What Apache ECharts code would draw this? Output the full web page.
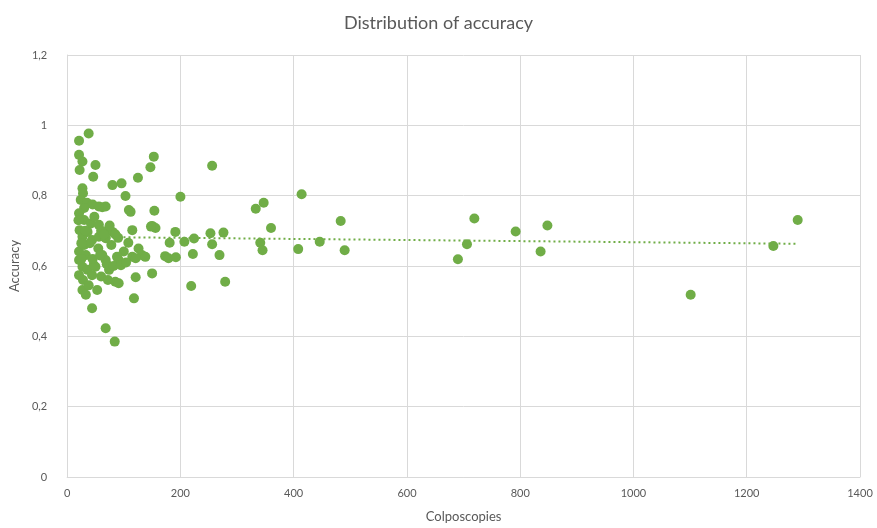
<!DOCTYPE html>
<html><head><meta charset="utf-8">
<script src="https://cdn.jsdelivr.net/npm/echarts@6/dist/echarts.min.js"></script>
<style>html,body{margin:0;padding:0;background:#fff}#c{width:877px;height:528px}</style>
</head><body><div id="c"></div>
<script>
var title = 'Distribution of accuracy';
var xName = 'Colposcopies';
var yName = 'Accuracy';
var xTicks = [0, 200, 400, 600, 800, 1000, 1200, 1400];
var yTicks = [0, 0.2, 0.4, 0.6, 0.8, 1, 1.2];
var colposcopies = [
 38,21,21,27,22,50,46,153,147,125,80,96,27,28,103,
 109,112,154,62,68,150,156,115,24,35,45,56,30,
 21,30,42,56,74,80,22,27,36,44,56,68,75,85,90,20,48,60,65,
 21,33,21,27,36,62,68,50,74,44,21,
 108,126,132,138,100,115,121,88,91,70,82,95,104,47,30,40,25,55,78,
 150,121,85,91,53,27,33,118,44,68,84,
 28,38,60,72,32,25,45,58,
 173,179,192,222,269,219,279,
 200,256,414,347,333,360,148,191,253,276,224,181,207,256,341,345,408,446,483,490,
 690,706,719,792,836,848,1101,1247,1290
];
var accuracy = [
 0.977,0.956,0.916,0.897,0.873,0.887,0.854,0.911,0.881,0.851,0.830,0.835,0.821,0.807,0.799,
 0.759,0.754,0.757,0.767,0.769,0.714,0.708,0.702,0.788,0.780,0.775,0.769,0.765,
 0.750,0.731,0.721,0.717,0.707,0.697,0.702,0.683,0.697,0.674,0.683,0.679,0.715,0.690,0.680,0.730,0.740,0.700,0.690,
 0.641,0.631,0.617,0.598,0.589,0.631,0.617,0.598,0.589,0.574,0.574,
 0.666,0.650,0.631,0.626,0.641,0.626,0.622,0.626,0.617,0.605,0.600,0.602,0.610,0.603,0.660,0.665,0.620,0.650,0.660,
 0.579,0.568,0.555,0.551,0.532,0.532,0.518,0.508,0.480,0.423,0.385,
 0.560,0.545,0.570,0.560,0.700,0.665,0.620,0.630,
 0.628,0.622,0.625,0.634,0.631,0.543,0.555,
 0.797,0.885,0.804,0.780,0.763,0.708,0.712,0.697,0.693,0.695,0.678,0.666,0.669,0.662,0.666,0.645,0.648,0.669,0.728,0.645,
 0.619,0.662,0.735,0.698,0.641,0.715,0.518,0.657,0.731
];

var pts = colposcopies.map(function(x,i){return [x, accuracy[i]];});
// linear trend (least squares) from the data
var n = pts.length, sx=0, sy=0, sxx=0, sxy=0;
pts.forEach(function(p){sx+=p[0];sy+=p[1];sxx+=p[0]*p[0];sxy+=p[0]*p[1];});
var slope = (n*sxy - sx*sy)/(n*sxx - sx*sx);
var icpt = (sy - slope*sx)/n;
var xmin = Math.min.apply(null, colposcopies), xmax = Math.max.apply(null, colposcopies);
var trend = [[xmin, icpt+slope*xmin],[xmax, icpt+slope*xmax]];

var gray = '#595959', grid = '#d9d9d9', green = '#70AD47';
var font = 'Lato, "Open Sans", sans-serif';
var chart = echarts.init(document.getElementById('c'));
chart.setOption({
  animation:false,
  title:{text:title,left:'center',top:9,textStyle:{fontFamily:font,fontSize:18,fontWeight:'normal',color:gray}},
  grid:{left:63,right:17,top:55,bottom:51},
  xAxis:{type:'value',min:xTicks[0],max:xTicks[xTicks.length-1],interval:200,
    name:xName,nameLocation:'middle',nameGap:33,nameTextStyle:{fontFamily:font,fontSize:13,color:gray},
    axisLine:{show:true,lineStyle:{color:grid}},axisTick:{show:false},
    axisLabel:{fontFamily:font,fontSize:11,color:gray,margin:11,formatter:function(v){return String(v);}},
    splitLine:{show:true,lineStyle:{color:grid,width:1}}},
  yAxis:{type:'value',min:yTicks[0],max:yTicks[yTicks.length-1],interval:0.2,
    name:yName,nameLocation:'middle',nameGap:42,nameRotate:90,nameTextStyle:{fontFamily:font,fontSize:13,color:gray},
    axisLine:{show:true,lineStyle:{color:grid}},axisTick:{show:false},
    axisLabel:{fontFamily:font,fontSize:11,color:gray,margin:20,
      formatter:function(v){return String(Math.round(v*10)/10).replace('.',',');}},
    splitLine:{show:true,lineStyle:{color:grid,width:1}}},
  series:[
    {type:'scatter',data:pts,symbolSize:10,itemStyle:{color:green,opacity:1},z:3},
    {type:'line',data:trend,symbol:'none',lineStyle:{color:green,width:2,type:[2,3]},z:2}
  ]
});
</script></body></html>
